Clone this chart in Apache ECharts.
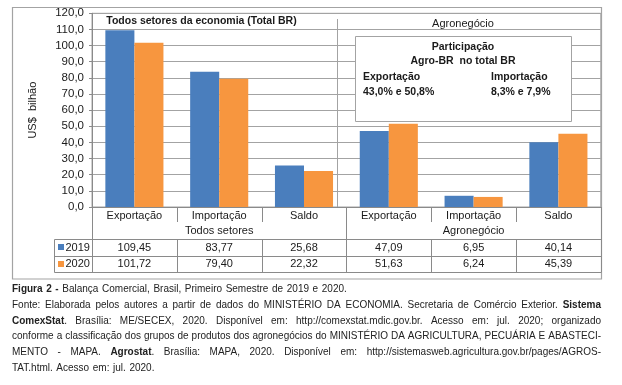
<!DOCTYPE html>
<html><head><meta charset="utf-8">
<script src="https://cdn.jsdelivr.net/npm/echarts@6/dist/echarts.min.js"></script>
<style>html,body{margin:0;padding:0;background:#fff}#c{width:622px;height:385px}</style>
</head><body><div id="c"></div>
<script>
// ---------------- data ----------------
const categories = ['Exportação', 'Importação', 'Saldo', 'Exportação', 'Importação', 'Saldo'];
const groups = ['Todos setores', 'Agronegócio'];
const seriesNames = ['2019', '2020'];
const values2019 = [109.45, 83.77, 25.68, 47.09, 6.95, 40.14];
const values2020 = [101.72, 79.40, 22.32, 51.63, 6.24, 45.39];
const yMin = 0, yMax = 120, yStep = 10;
const yAxisName = 'US$  bilhão';
const panelTitles = ['Todos setores da economia (Total BR)', 'Agronegócio'];
const boxTitle = ['Participação', 'Agro-BR  no total BR'];
const boxHeads = ['Exportação', 'Importação'];
const boxValues = ['43,0% e 50,8%', '8,3% e 7,9%'];
const captionLines = [
  '**Figura 2 -** Balança Comercial, Brasil, Primeiro Semestre de 2019 e 2020.',
  'Fonte: Elaborada pelos autores a partir de dados do MINISTÉRIO DA ECONOMIA. Secretaria de Comércio Exterior. **Sistema**',
  '**ComexStat**. Brasília: ME/SECEX, 2020. Disponível em: http://comexstat.mdic.gov.br. Acesso em: jul. 2020; organizado',
  'conforme a classificação dos grupos de produtos dos agronegócios do MINISTÉRIO DA AGRICULTURA, PECUÁRIA E ABASTECI-',
  'MENTO - MAPA. **Agrostat**. Brasília: MAPA, 2020. Disponível em: http://sistemasweb.agricultura.gov.br/pages/AGROS-',
  'TAT.html. Acesso em: jul. 2020.'
];
const captionJustify = [false, true, true, true, true, false];

// ---------------- layout ----------------
const FONT = 'Liberation Sans';
const COLORS = ['#4a7ebd', '#f7963f'];
const LINE = '#a3a3a3';
const TXT = '#1a1a1a';
const GL = 92, GR = 600.8, GT = 13.3, GB = 207;
const colW = (GR - GL) / categories.length;
const xs = categories.map((_, i) => GL + i * colW).concat([GR]);
const px = v => Math.round(v) + 0.5;

const g = [];
const Z = 100;
function line(x1, y1, x2, y2, c) {
  g.push({type: 'line', z: Z, silent: true, shape: {x1, y1, x2, y2},
    style: {stroke: c || LINE, lineWidth: 1}});
}
function text(t, x, y, opt) {
  opt = opt || {};
  g.push({type: 'text', z: Z + 1, silent: true, x, y, scaleX: opt.sx || 1,
    style: {text: t, fontSize: opt.fs || 11, fontWeight: opt.bold ? 'bold' : 'normal',
      fontFamily: FONT, fill: opt.color || TXT,
      align: opt.align || 'center', textAlign: opt.align || 'center',
      verticalAlign: 'middle', textVerticalAlign: 'middle'}});
}

// outer frame
g.push({type: 'rect', z: Z - 5, silent: true, shape: {x: 12.5, y: 7.5, width: 589, height: 271.5},
  style: {fill: 'none', stroke: LINE, lineWidth: 1.2}});
// panel separator
line(337.5, 19, 337.5, GB);
// panel titles
text(panelTitles[0], 201.5, 21.5, {bold: true, fs: 10.5});
text(panelTitles[1], 463, 24, {fs: 11});
// info box
g.push({type: 'rect', z: Z, silent: true, shape: {x: 355.5, y: 36.5, width: 216, height: 85},
  style: {fill: '#fff', stroke: LINE, lineWidth: 1}});
text(boxTitle[0], 463, 47, {bold: true, fs: 10.5});
text(boxTitle[1], 463, 61.5, {bold: true, fs: 10.5});
text(boxHeads[0], 363, 77, {bold: true, fs: 10.5, align: 'left'});
text(boxHeads[1], 491, 77, {bold: true, fs: 10.5, align: 'left'});
text(boxValues[0], 363, 92.5, {bold: true, fs: 10.5, align: 'left'});
text(boxValues[1], 491, 92.5, {bold: true, fs: 10.5, align: 'left'});

// data table
const rCat = 222, rGrp = 239, r1 = 255.7, r2 = 272, LEG = 54;
const TL = '#8a8a8a';
xs.forEach((x, i) => {
  const full = (i === 0 || i === 3 || i === 6);
  if (full) line(px(x), GB, px(x), r2, TL);
  else { line(px(x), GB, px(x), rCat, TL); line(px(x), rGrp, px(x), r2, TL); }
});
line(px(LEG), px(rGrp), px(LEG), px(r2), TL);
[rGrp, r1, r2].forEach(y => line(px(LEG), px(y), px(GR), px(y), TL));
text(groups[0], (xs[0] + xs[3]) / 2, 231, {fs: 11});
text(groups[1], (xs[3] + xs[6]) / 2, 231, {fs: 11});
const fmt2 = v => v.toFixed(2).replace('.', ',');
[values2019, values2020].forEach((vals, s) => {
  const yc = s === 0 ? (rGrp + r1) / 2 : (r1 + r2) / 2;
  vals.forEach((v, i) => text(fmt2(v), (xs[i] + xs[i + 1]) / 2, yc + 0.5, {fs: 11}));
  g.push({type: 'rect', z: Z, silent: true, shape: {x: 58, y: Math.round(yc) - 3, width: 6, height: 6},
    style: {fill: COLORS[s]}});
  text(seriesNames[s], 65.5, yc + 0.5, {fs: 11, align: 'left'});
});

// caption (justified)
const ctx = document.createElement('canvas').getContext('2d');
const CFS = 11;
function mw(t, b) { ctx.font = (b ? 'bold ' : '') + CFS + 'px "' + FONT + '"'; return ctx.measureText(t).width; }
function parseWords(l) {
  const words = []; let bold = false;
  l.split(' ').forEach(raw => {
    if (!raw) return;
    const pieces = [];
    raw.split('**').forEach((p, i) => { if (i > 0) bold = !bold; if (p) pieces.push({t: p, b: bold, w: mw(p, bold)}); });
    words.push(pieces);
  });
  return words;
}
const CX0 = 12, CX1 = 601, CW = CX1 - CX0;
const capWords = captionLines.map(parseWords);
const spaceW = mw(' ', false);
let sx = 1;
capWords.forEach((ws, li) => {
  if (!captionJustify[li]) return;
  const nat = ws.reduce((a, p) => a + p.reduce((b, q) => b + q.w, 0), 0) + spaceW * (ws.length - 1);
  sx = Math.min(sx, CW / nat);
});
sx *= 0.995;
const capY = [289, 305, 320.5, 336, 352, 367.5];
capWords.forEach((ws, li) => {
  const wordW = ws.map(p => p.reduce((b, q) => b + q.w, 0) * sx);
  const tot = wordW.reduce((a, b) => a + b, 0);
  const gap = captionJustify[li] ? (CW - tot) / (ws.length - 1) : spaceW * sx * 1.3;
  let cx = CX0;
  ws.forEach((p, wi) => {
    p.forEach(q => { text(q.t, cx, capY[li], {fs: CFS, bold: q.b, align: 'left', sx, color: '#222'}); cx += q.w * sx; });
    cx += gap;
  });
});

// ---------------- chart ----------------
const chart = echarts.init(document.getElementById('c'), null, {renderer: 'canvas'});
chart.setOption({
  animation: false,
  backgroundColor: '#fff',
  textStyle: {fontFamily: FONT},
  grid: {left: GL, top: GT, width: GR - GL, height: GB - GT, show: true,
    borderColor: LINE, borderWidth: 1, containLabel: false},
  xAxis: {
    type: 'category', data: categories,
    axisLine: {show: true, lineStyle: {color: TL, width: 1}},
    axisTick: {show: false},
    axisLabel: {interval: 0, margin: 3, fontSize: 11, color: TXT, fontFamily: FONT}
  },
  yAxis: {
    type: 'value', min: yMin, max: yMax, interval: yStep,
    name: yAxisName, nameLocation: 'middle', nameRotate: 90, nameGap: 54,
    nameTextStyle: {fontSize: 11, color: TXT, fontFamily: FONT},
    axisLine: {show: true, lineStyle: {color: TL, width: 1}},
    axisTick: {show: true, length: 3, lineStyle: {color: TL}},
    axisLabel: {margin: 8, fontSize: 11.5, color: TXT, fontFamily: FONT,
      formatter: v => v.toFixed(1).replace('.', ',')},
    splitLine: {show: true, lineStyle: {color: LINE, width: 1}}
  },
  series: [
    {name: seriesNames[0], type: 'bar', data: values2019, itemStyle: {color: COLORS[0]},
      barGap: '0%', barCategoryGap: '31.5%'},
    {name: seriesNames[1], type: 'bar', data: values2020, itemStyle: {color: COLORS[1]},
      barGap: '0%', barCategoryGap: '31.5%'}
  ],
  graphic: {elements: g}
});
</script></body></html>
